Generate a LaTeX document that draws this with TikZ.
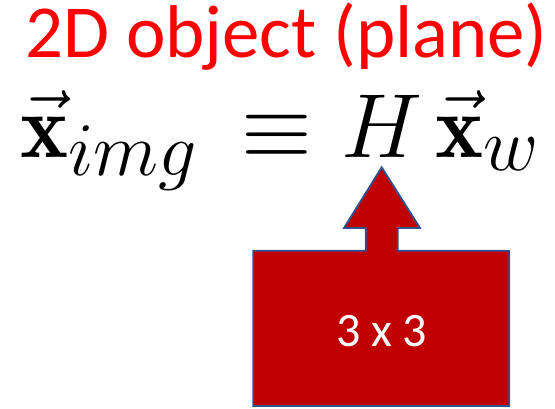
\documentclass[tikz,border=0pt]{standalone}
\usepackage{fontspec}
\usepackage{graphicx}
\newfontfamily\carlito{Carlito}
\definecolor{titlered}{RGB}{255,0,0}
\definecolor{boxred}{RGB}{192,0,0}
\definecolor{boxline}{RGB}{47,82,143}
\tikzset{
  titletext/.style={anchor=base west, inner sep=0pt, text=titlered, font=\carlito\fontsize{74.8}{80}\selectfont},
  eqtext/.style={anchor=base west, inner sep=0pt},
  arrowbox/.style={fill=boxred, draw=boxline, line width=1.8pt, line join=miter},
  boxlabel/.style={inner sep=0pt, text=white, font=\carlito\fontsize{48}{52}\selectfont}
}
\begin{document}
\begin{tikzpicture}[x=1pt,y=1pt]
\useasboundingbox (0,0) rectangle (555,408);
\node[titletext] (title) at (25,350) {2D object (plane)};
\node[eqtext] (eq) at (20,251) {\scalebox{3.6576}{\Huge$\vec{\mathbf{x}}_{img}\mkern3.4mu\equiv\mkern0.8mu H\mkern2.6mu\vec{\mathbf{x}}_w$}};
\draw[arrowbox] (381.7,240.7) -- (420,180) -- (397.7,180) -- (397.7,157.3) -- (509.3,157.3) -- (509.3,2) -- (253.3,2) -- (253.3,157.3) -- (365.7,157.3) -- (365.7,180) -- (344,180) -- cycle;
\node[boxlabel] (dim) at (381.7,77) {3 x 3};
\end{tikzpicture}
\end{document}
